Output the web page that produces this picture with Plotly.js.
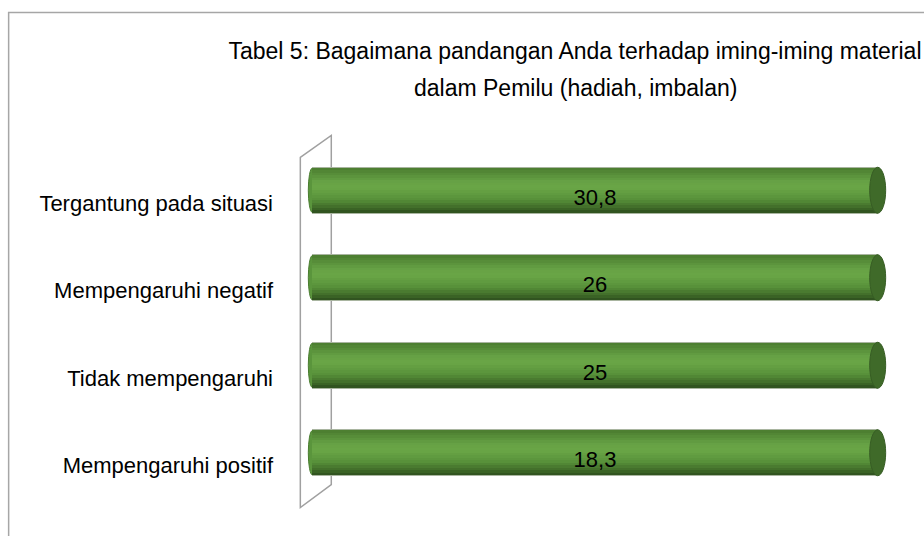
<!DOCTYPE html>
<html><head><meta charset="utf-8">
<script src="https://cdn.plot.ly/plotly-3.0.1.min.js"></script>
<style>html,body{margin:0;padding:0;background:#fff}#chart{width:924px;height:536px}</style>
</head><body><div id="chart"></div>
<script>
// ---- data ----
const categories = ['Tergantung pada situasi', 'Mempengaruhi negatif', 'Tidak mempengaruhi', 'Mempengaruhi positif'];
const values = [30.8, 26, 25, 18.3];
const valueLabels = ['30,8', '26', '25', '18,3'];
const titleLine1 = 'Tabel 5: Bagaimana pandangan Anda terhadap iming-iming material';
const titleLine2 = 'dalam Pemilu (hadiah, imbalan)';

// ---- geometry / style ----
const W = 924, H = 536;
const x0px = 312, x100px = 878, xr = [-2, 102];
const unit = (x100px - x0px) / 100;
const L = x0px - (0 - xr[0]) * unit;
const R = W - (x100px + (xr[1] - 100) * unit);
const yTopPx = 190, ySp = 87.67, yr = [3.7, -0.7];
const T = yTopPx + yr[1] * ySp;
const B = H - (yTopPx + yr[0] * ySp);
const pw = W - L - R, ph = H - T - B;
const px = x => (x - L) / pw, py = y => (H - B - y) / ph;
const FONT = '"Liberation Sans Narrow","Arial Narrow","Liberation Sans",Arial,sans-serif';
const barW = 0.525;

// cylinder shading stops (top -> bottom)
const stops = [[0, [74, 124, 47]], [0.3, [102, 161, 69]], [0.45, [106, 166, 70]], [0.7, [88, 145, 58]], [0.88, [64, 108, 41]], [1, [45, 77, 29]]];
function shade(t) {
  for (let k = 1; k < stops.length; k++) {
    if (t <= stops[k][0]) {
      const a = stops[k - 1], b = stops[k], f = (t - a[0]) / (b[0] - a[0]);
      const c = a[1].map((v, j) => Math.round(v + (b[1][j] - v) * f));
      return `rgb(${c.join(',')})`;
    }
  }
  return `rgb(${stops[stops.length - 1][1].join(',')})`;
}
const nStrips = 18;

const traces = [];
const layout = {
  width: W, height: H,
  margin: {l: L, r: R, t: T, b: B, pad: 0},
  paper_bgcolor: '#fff', plot_bgcolor: 'rgba(0,0,0,0)',
  barmode: 'stack', barnorm: 'percent',
  showlegend: false,
  title: {
    text: titleLine1,
    font: {family: FONT, size: 23, color: '#000'},
    x: 575 / W, xanchor: 'center', xref: 'container',
    y: 1 - 51 / H, yanchor: 'middle', yref: 'container'
  },
  annotations: [{
    text: titleLine2, xref: 'paper', yref: 'paper', x: px(575), y: py(88),
    xanchor: 'center', yanchor: 'middle', showarrow: false,
    font: {family: FONT, size: 23, color: '#000'}
  }],
  xaxis: {range: xr, visible: false, fixedrange: true},
  yaxis: {
    type: 'category', categoryorder: 'array', categoryarray: categories,
    range: yr, showgrid: false, zeroline: false, showline: false, ticks: '',
    ticklabelstandoff: 27, ticklabelshift: -13,
    tickfont: {family: FONT, size: 22, color: '#000'}, fixedrange: true
  },
  shapes: []
};

function addAxis(n) {
  layout['yaxis' + n] = {
    type: 'category', categoryorder: 'array', categoryarray: categories,
    range: yr, overlaying: 'y', visible: false, fixedrange: true
  };
  return 'y' + n;
}

// base full cylinder body
traces.push({
  type: 'bar', orientation: 'h', y: categories, x: values,
  width: barW, marker: {color: '#3d6a28', line: {color: '#a9b5a0', width: 1}},
  hoverinfo: 'skip', yaxis: 'y'
});
// shading strips
for (let i = 0; i < nStrips; i++) {
  const sw = (barW - 0.012) / nStrips;
  traces.push({
    type: 'bar', orientation: 'h', y: categories, x: values,
    width: sw + 0.003, offset: -barW / 2 + 0.006 + i * sw,
    marker: {color: shade((i + 0.5) / nStrips), line: {width: 0}},
    hoverinfo: 'skip', yaxis: addAxis(i + 2)
  });
}
// value labels
traces.push({
  type: 'bar', orientation: 'h', y: categories, x: values,
  width: barW, offset: -barW / 2 + 0.08,
  marker: {color: 'rgba(0,0,0,0)', line: {width: 0}},
  text: valueLabels, textposition: 'inside', insidetextanchor: 'middle',
  textangle: 0, constraintext: 'none',
  textfont: {family: FONT, size: 22, color: '#000'},
  hoverinfo: 'skip', yaxis: addAxis(nStrips + 2)
});

// end caps
const capHalfR = 8 / unit, capHalfL = 4 / unit;
categories.forEach((c, i) => {
  layout.shapes.push({type: 'circle', xref: 'x', yref: 'y', layer: 'below',
    x0: -capHalfL, x1: capHalfL, y0: i - barW / 2 + 0.01, y1: i + barW / 2 - 0.01,
    fillcolor: '#5a953c', line: {color: '#4a7d30', width: 1}});
  layout.shapes.push({type: 'circle', xref: 'x', yref: 'y', layer: 'above',
    x0: 100 - capHalfR, x1: 100 + capHalfR, y0: i - barW / 2, y1: i + barW / 2,
    fillcolor: '#3f6a29', line: {color: '#375d24', width: 1}});
});

// 3D back wall
layout.shapes.push({type: 'path', xref: 'paper', yref: 'paper', layer: 'below',
  path: `M ${px(300)} ${py(157)} L ${px(331)} ${py(135)} L ${px(331)} ${py(485)} L ${px(300)} ${py(508)} Z`,
  line: {color: '#a0a0a0', width: 1.5}, fillcolor: 'rgba(0,0,0,0)'});
// chart border
layout.shapes.push({type: 'path', xref: 'paper', yref: 'paper', layer: 'below',
  path: `M ${px(8)} ${py(540)} L ${px(8)} ${py(12)} L ${px(930)} ${py(12)}`,
  line: {color: '#a6a6a6', width: 1.5}});

Plotly.newPlot('chart', traces, layout, {staticPlot: true, displayModeBar: false});
</script>
</body></html>
